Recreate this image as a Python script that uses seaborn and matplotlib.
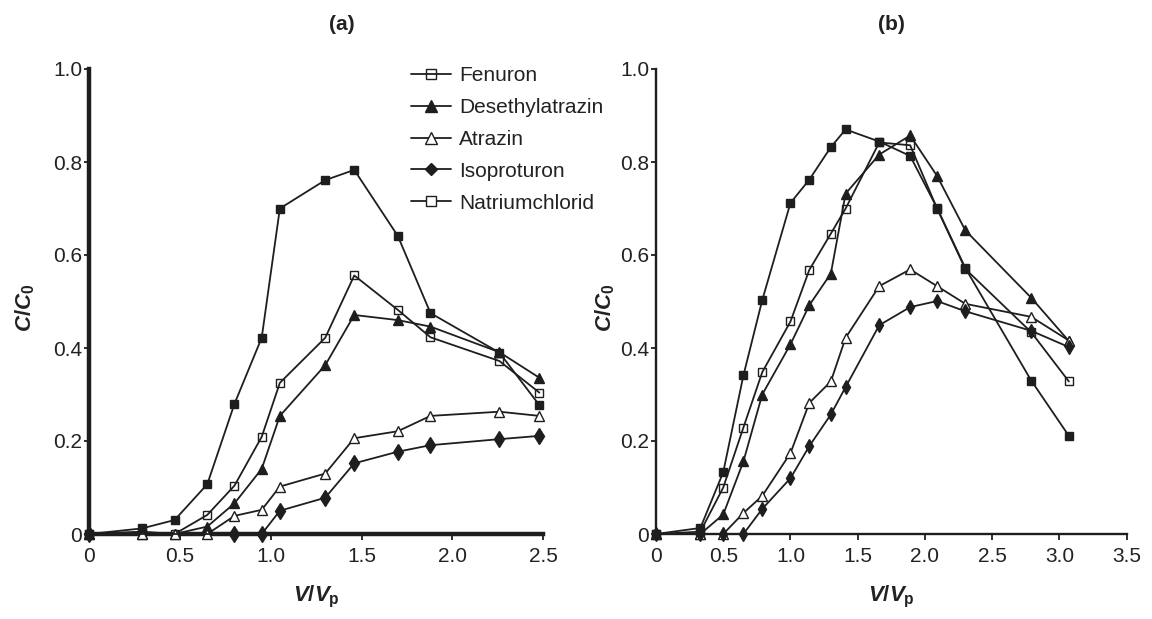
import numpy as np
import pandas as pd
import matplotlib
matplotlib.use("Agg")
import matplotlib.pyplot as plt
from matplotlib.lines import Line2D
import seaborn as sns

# ---------------- data ----------------
series_names = ["Fenuron", "Desethylatrazin", "Atrazin", "Isoproturon", "Natriumchlorid"]

# panel (a)
xa = [0, 0.29, 0.47, 0.65, 0.80, 0.95, 1.05, 1.30, 1.46, 1.70, 1.88, 2.26, 2.48]
a_fenuron = [0, 0.005, 0, 0.041, 0.104, 0.209, 0.325, 0.422, 0.556, 0.482, 0.423, 0.372, 0.304]
a_desethylatrazin = [0, 0, 0, 0.016, 0.066, 0.140, 0.254, 0.363, 0.471, 0.460, 0.446, 0.391, 0.336]
a_atrazin = [0, 0, 0, 0, 0.039, 0.052, 0.102, 0.130, 0.206, 0.221, 0.254, 0.263, 0.254]
a_isoproturon = [0, np.nan, np.nan, np.nan, 0, 0, 0.050, 0.078, 0.152, 0.177, 0.191, 0.204, 0.211]
a_natriumchlorid = [0, 0.012, 0.030, 0.107, 0.280, 0.422, 0.700, 0.761, 0.783, 0.641, 0.475, 0.390, 0.277]

# panel (b)
xb = [0, 0.33, 0.50, 0.65, 0.79, 1.00, 1.14, 1.30, 1.41, 1.66, 1.89, 2.09, 2.30, 2.79, 3.07]
b_fenuron = [0, 0.005, 0.100, 0.229, 0.348, 0.457, 0.568, 0.646, 0.700, 0.842, 0.836, 0.700, 0.570, 0.434, 0.328]
b_desethylatrazin = [0, 0, 0.042, 0.156, 0.300, 0.408, 0.492, 0.560, 0.732, 0.816, 0.857, 0.770, 0.653, 0.508, 0.415]
b_atrazin = [0, 0, 0, 0.045, 0.082, 0.174, 0.282, 0.328, 0.422, 0.533, 0.569, 0.533, 0.495, 0.467, 0.416]
b_isoproturon = [0, 0, 0, 0, 0.054, 0.120, 0.189, 0.257, 0.316, 0.449, 0.488, 0.501, 0.479, 0.437, 0.402]
b_natriumchlorid = [0, 0.013, 0.133, 0.341, 0.503, 0.712, 0.762, 0.832, 0.870, 0.844, 0.813, 0.701, 0.572, 0.330, 0.211]

xticks_a = [0, 0.5, 1.0, 1.5, 2.0, 2.5]
xticklabels_a = ["0", "0.5", "1.0", "1.5", "2.0", "2.5"]
xticks_b = [0, 0.5, 1.0, 1.5, 2.0, 2.5, 3.0, 3.5]
xticklabels_b = ["0", "0.5", "1.0", "1.5", "2.0", "2.5", "3.0", "3.5"]
yticks = [0, 0.2, 0.4, 0.6, 0.8, 1.0]
yticklabels = ["0", "0.2", "0.4", "0.6", "0.8", "1.0"]

# ---------------- style ----------------
sns.set_style("ticks")
plt.rcParams["font.family"] = ["Liberation Sans", "DejaVu Sans"]
plt.rcParams["mathtext.fontset"] = "custom"
plt.rcParams["mathtext.it"] = "Liberation Sans:italic:bold"
plt.rcParams["mathtext.rm"] = "Liberation Sans:bold"
plt.rcParams["mathtext.bf"] = "Liberation Sans:bold"

INK = "#1e1e1e"
TXT = "#222222"

# marker styles: (marker, face)
mstyle = {
    "Fenuron": ("s", "none"),
    "Desethylatrazin": ("^", INK),
    "Atrazin": ("^", "white"),
    "Isoproturon": ("d", INK),
    "Natriumchlorid": ("s", INK),
}

W, H = 1152, 619
fig = plt.figure(figsize=(W / 100, H / 100), dpi=100)
ax1 = fig.add_axes([89.3 / W, 85 / H, 453.7 / W, 465 / H])
ax2 = fig.add_axes([656 / W, 85 / H, 470.7 / W, 465 / H])


def draw(ax, x, data, msizes):
    for name, y in zip(series_names, data):
        df = pd.DataFrame({"x": x, "y": y})
        m, face = mstyle[name]
        sns.lineplot(data=df, x="x", y="y", ax=ax, sort=False, estimator=None,
                     color=INK, linewidth=1.3, marker=m, markersize=msizes[m],
                     markerfacecolor=face,
                     markeredgecolor=INK, markeredgewidth=1.0,
                     clip_on=False, zorder=3, legend=False)


draw(ax1, xa, [a_fenuron, a_desethylatrazin, a_atrazin, a_isoproturon, a_natriumchlorid],
     {"s": 6.2, "^": 7.5, "d": 8.0})
draw(ax2, xb, [b_fenuron, b_desethylatrazin, b_atrazin, b_isoproturon, b_natriumchlorid],
     {"s": 5.2, "^": 6.5, "d": 7.0})

for ax, xt, xtl, xmax, spw in [(ax1, xticks_a, xticklabels_a, 2.5, 3.2),
                               (ax2, xticks_b, xticklabels_b, 3.5, 1.7)]:
    ax.set_xlim(0, xmax)
    ax.set_ylim(0, 1.0)
    ax.set_xticks(xt)
    ax.set_xticklabels(xtl)
    ax.set_yticks(yticks)
    ax.set_yticklabels(yticklabels)
    for s in ["top", "right"]:
        ax.spines[s].set_visible(False)
    for s in ["left", "bottom"]:
        ax.spines[s].set_linewidth(spw)
        ax.spines[s].set_color(INK)
    ax.tick_params(axis="x", direction="out", length=4.5, width=1.3, color=INK,
                   labelsize=15, labelcolor=TXT, pad=5)
    ax.tick_params(axis="y", direction="out", length=3.5, width=1.3, color=INK,
                   labelsize=15, labelcolor=TXT, pad=1.5)
    ax.set_xlabel(r"$V/V_{\mathrm{p}}$", fontsize=16, color=TXT)
    ax.set_ylabel(r"$C/C_{\mathrm{0}}$", fontsize=16, color=TXT)
    ax.xaxis.set_label_coords(0.5, -0.108)
    ax.set_facecolor("white")

ax1.yaxis.set_label_coords(-0.115, 0.487)
ax2.yaxis.set_label_coords(-0.083, 0.487)

# titles
fig.text(342 / W, 1 - 25 / H, "(a)", ha="center", va="center", fontsize=15,
         fontweight="bold", color=TXT)
fig.text(891 / W, 1 - 25 / H, "(b)", ha="center", va="center", fontsize=15,
         fontweight="bold", color=TXT)

# legend (both squares drawn open, as in the reference)
leg_marker = {"Fenuron": ("s", "none"), "Desethylatrazin": ("^", INK), "Atrazin": ("^", "white"),
              "Isoproturon": ("D", INK), "Natriumchlorid": ("s", "white")}
handles = []
for name in series_names:
    m, face = leg_marker[name]
    handles.append(Line2D([], [], color=INK, linewidth=1.3, marker=m,
                          markersize={"s": 7, "^": 8, "D": 6}[m],
                          markerfacecolor=face,
                          markeredgecolor=INK, markeredgewidth=1.0))
leg = ax1.legend(handles, series_names, loc="upper left",
                 bbox_to_anchor=(411 / W, 1 - 66 / H), bbox_transform=fig.transFigure,
                 frameon=False, fontsize=15, handlelength=1.9, handletextpad=0.4,
                 labelspacing=0.62, borderpad=0, borderaxespad=0)
for t in leg.get_texts():
    t.set_color(TXT)

fig.savefig("out.png", dpi=100, facecolor="white")
